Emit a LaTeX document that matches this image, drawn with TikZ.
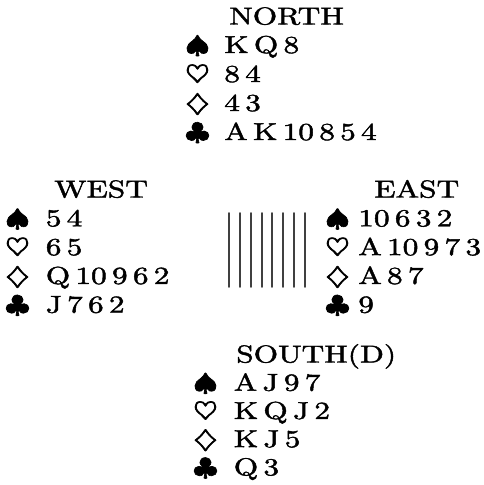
\documentclass[tikz,border=0pt]{standalone}
\usepackage{graphicx}
\usepackage{fontspec}
\newfontfamily\handfont{lmroman10-regular.otf}[FakeBold=1.5]
\newfontfamily\suitfont{latinmodern-math.otf}[FakeBold=2.5]

\newcommand{\wide}[1]{\scalebox{2.23}[1.74]{#1}}
\newcommand{\suit}[1]{\wide{\suitfont #1}}
\tikzset{
  hand/.style={anchor=base west,inner sep=0pt,font=\normalsize\handfont},
  bar/.style={line width=1.35pt,draw=black!75},
}

\begin{document}
\begin{tikzpicture}[x=0.025cm,y=-0.025cm,line cap=round,line join=round]
  \useasboundingbox (0,0) rectangle (484,485);

  % north
  \node[hand] (ntitle) at (229,24.5) {\wide{NORTH}};
  \node[hand] (nsp) at (185,53) {\suit{♠}};
  \node[hand] (nhe) at (185,82) {\suit{♡}};
  \node[hand] (ndi) at (185,111) {\suit{♢}};
  \node[hand] (ncl) at (185,140) {\suit{♣}};
  \node[hand] (nsptxt) at (224,53) {\wide{K\,Q\,8}};
  \node[hand] (nhetxt) at (224,82) {\wide{8\,4}};
  \node[hand] (nditxt) at (224,111) {\wide{4\,3}};
  \node[hand] (ncltxt) at (224,140) {\wide{A\,K\,10\,8\,5\,4}};

  % west
  \node[hand] (wtitle) at (54,197.5) {\wide{WEST}};
  \node[hand] (wsp) at (5,226.3) {\suit{♠}};
  \node[hand] (whe) at (5,255.1) {\suit{♡}};
  \node[hand] (wdi) at (5,283.9) {\suit{♢}};
  \node[hand] (wcl) at (5,312.7) {\suit{♣}};
  \node[hand] (wsptxt) at (45.5,226.3) {\wide{5\,4}};
  \node[hand] (whetxt) at (45.5,255.1) {\wide{6\,5}};
  \node[hand] (wditxt) at (45.5,283.9) {\wide{Q\,10\,9\,6\,2}};
  \node[hand] (wcltxt) at (45.5,312.7) {\wide{J\,7\,6\,2}};

  % east
  \node[hand] (etitle) at (374,197.5) {\wide{EAST}};
  \node[hand] (esp) at (325,226.3) {\suit{♠}};
  \node[hand] (ehe) at (325,255.1) {\suit{♡}};
  \node[hand] (edi) at (325,283.9) {\suit{♢}};
  \node[hand] (ecl) at (325,312.7) {\suit{♣}};
  \node[hand] (esptxt) at (358,226.3) {\wide{10\,6\,3\,2}};
  \node[hand] (ehetxt) at (358,255.1) {\wide{A\,10\,9\,7\,3}};
  \node[hand] (editxt) at (358,283.9) {\wide{A\,8\,7}};
  \node[hand] (ecltxt) at (358,312.7) {\wide{9}};

  % south
  \node[hand] (stitle) at (236,362.5) {\wide{SOUTH(D)}};
  \node[hand] (ssp) at (193,390.7) {\suit{♠}};
  \node[hand] (she) at (193,418.9) {\suit{♡}};
  \node[hand] (sdi) at (193,447.1) {\suit{♢}};
  \node[hand] (scl) at (193,475.3) {\suit{♣}};
  \node[hand] (ssptxt) at (233.5,390.7) {\wide{A\,J\,9\,7}};
  \node[hand] (shetxt) at (233.5,418.9) {\wide{K\,Q\,J\,2}};
  \node[hand] (sditxt) at (233.5,447.1) {\wide{K\,J\,5}};
  \node[hand] (scltxt) at (233.5,475.3) {\wide{Q\,3}};

  % table
  \foreach \i in {0,...,7}
    \draw[bar] (229+10.86*\i,213) -- (229+10.86*\i,287);
\end{tikzpicture}
\end{document}
